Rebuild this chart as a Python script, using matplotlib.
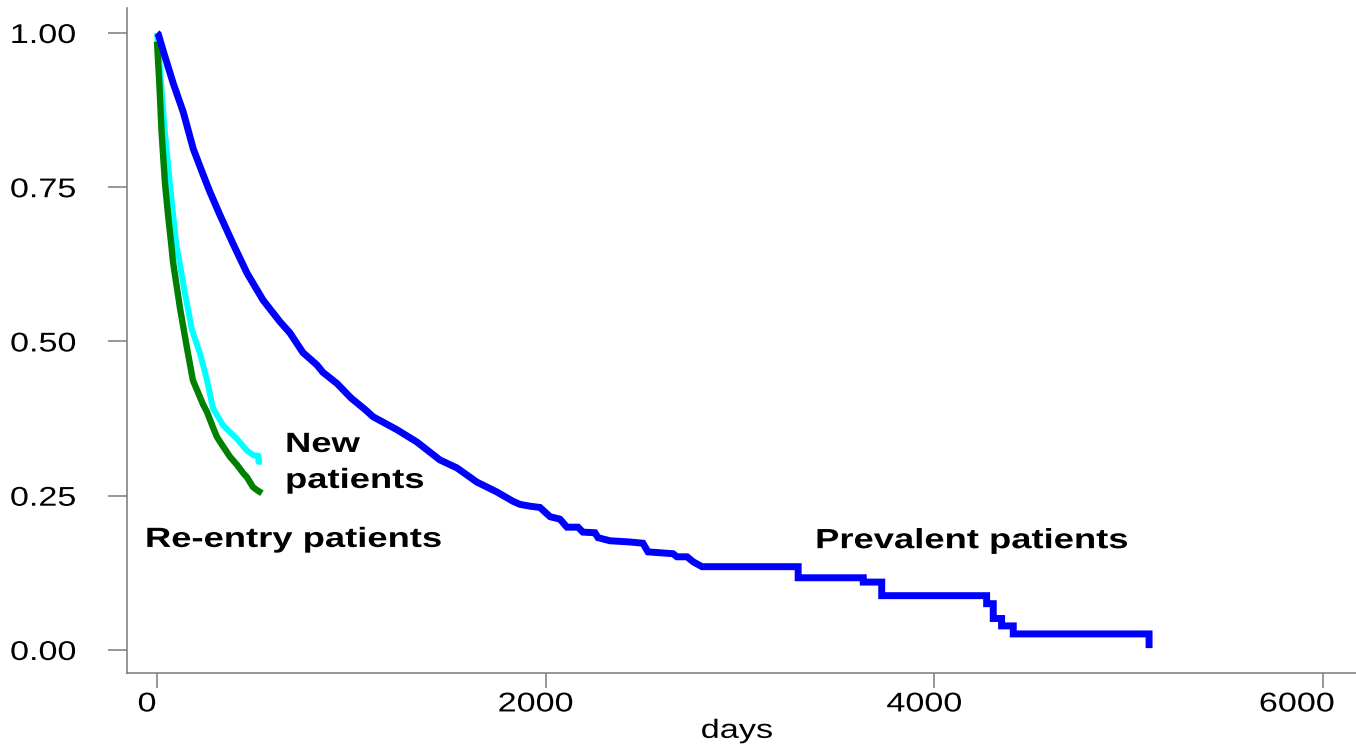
import matplotlib
matplotlib.use("Agg")
import matplotlib.pyplot as plt
from matplotlib.patheffects import AbstractPathEffect
from matplotlib.transforms import Affine2D, ScaledTranslation

# ---------------- data ----------------
prev_days = [0, 7, 33, 84, 135, 187, 238, 273, 324, 392, 463, 546, 633, 684, 751,
             823, 854, 926, 1000, 1070, 1112, 1235, 1338, 1456, 1544, 1647, 1750,
             1832, 1868, 1920, 1971, 2023, 2074, 2110, 2167, 2192, 2254, 2270, 2331,
             2434, 2501, 2527, 2656, 2676, 2728, 2759, 2805, 3300, 3300, 3635, 3635,
             3730, 3730, 4270, 4270, 4304, 4304, 4347, 4347, 4407, 4407, 5106, 5106]
prev_surv = [1.0, 0.998, 0.970, 0.918, 0.872, 0.812, 0.770, 0.742, 0.705, 0.658,
             0.611, 0.567, 0.532, 0.514, 0.482, 0.462, 0.450, 0.432, 0.408, 0.390,
             0.378, 0.357, 0.337, 0.308, 0.295, 0.272, 0.256, 0.241, 0.236, 0.233,
             0.231, 0.216, 0.212, 0.199, 0.199, 0.191, 0.190, 0.182, 0.177, 0.175,
             0.173, 0.159, 0.156, 0.151, 0.151, 0.143, 0.135, 0.135, 0.117, 0.117,
             0.110, 0.110, 0.088, 0.088, 0.075, 0.075, 0.051, 0.051, 0.039, 0.039,
             0.026, 0.026, 0.003]

new_days = [0, 21, 41, 58, 75, 101, 108, 144, 180, 221, 257, 288, 340, 412, 463,
            500, 522, 522, 540]
new_surv = [1.0, 0.919, 0.838, 0.783, 0.729, 0.653, 0.643, 0.578, 0.519, 0.481,
            0.438, 0.392, 0.364, 0.342, 0.323, 0.315, 0.315, 0.305, 0.305]

reentry_days = [0, 12, 24, 41, 58, 75, 82, 118, 154, 185, 237, 257, 288, 309, 340,
                376, 412, 443, 463, 494, 515, 540]
reentry_surv = [0.986, 0.919, 0.838, 0.757, 0.702, 0.653, 0.630, 0.555, 0.490,
                0.437, 0.398, 0.386, 0.361, 0.345, 0.330, 0.313, 0.300, 0.287,
                0.280, 0.264, 0.259, 0.254]

x_ticks = [0, 2000, 4000, 6000]
x_tick_labels = ["0", "2000", "4000", "6000"]
y_ticks = [0.0, 0.25, 0.50, 0.75, 1.00]
y_tick_labels = ["0.00", "0.25", "0.50", "0.75", "1.00"]

label_texts = ["Re-entry patients", "New\npatients", "Prevalent patients"]
label_pos = [(-62, 0.167), (659, 0.2626), (3387, 0.165)]
x_label = "days"


# ---------------- horizontally stretched glyphs (text stays real text) ----------------
class HStretch(AbstractPathEffect):
    def __init__(self, sx, anchor="left"):
        super().__init__()
        self.sx = sx
        self.anchor = anchor

    def draw_path(self, renderer, gc, tpath, affine, rgbFace=None):
        ext = tpath.get_extents()
        if self.anchor == "right":
            a = ext.x1
        elif self.anchor == "center":
            a = 0.5 * (ext.x0 + ext.x1)
        else:
            a = 0.0
        tr = Affine2D().translate(-a, 0).scale(self.sx, 1.0).translate(a, 0) + affine
        renderer.draw_path(gc, tpath, tr, rgbFace)


FONT = "Liberation Sans"

# ---------------- figure ----------------
fig = plt.figure(figsize=(13.56, 7.47), dpi=100)
ax = fig.add_axes([0.0937, 0.0991, 0.9063, 0.8902])

ax.plot(new_days, new_surv, color="#00FFFF", lw=4.3, solid_capstyle="butt",
        solid_joinstyle="round", zorder=2)
ax.plot(reentry_days, reentry_surv, color="#008000", lw=4.6, solid_capstyle="butt",
        solid_joinstyle="round", zorder=3)
ax.plot(prev_days, prev_surv, color="#0000FF", lw=5.0, solid_capstyle="butt",
        solid_joinstyle="miter", zorder=4)

ax.set_xlim(-154, 6171)
ax.set_ylim(-0.0373, 1.0405)

for s in ["top", "right"]:
    ax.spines[s].set_visible(False)
for s in ["left", "bottom"]:
    ax.spines[s].set_color("#7a7a7a")
    ax.spines[s].set_linewidth(1.1)

ax.set_xticks(x_ticks)
ax.set_xticklabels(x_tick_labels)
ax.set_yticks(y_ticks)
ax.set_yticklabels(y_tick_labels)
ax.tick_params(axis="both", colors="#7a7a7a", labelcolor="black", width=1.1,
               labelsize=19.5)
ax.tick_params(axis="y", length=13.7, pad=23)
ax.tick_params(axis="x", length=10.8, pad=2.5)
for lab in ax.get_yticklabels():
    lab.set_fontfamily(FONT)
    lab.set_path_effects([HStretch(1.26, "right")])
for lab in ax.get_xticklabels():
    lab.set_fontfamily(FONT)
    lab.set_path_effects([HStretch(1.26, "center")])

shifts_pt = [-7.2, -7.2, -7.2, -18.7]
for tick, sh in zip(ax.xaxis.get_major_ticks(), shifts_pt):
    tick.label1.set_transform(tick.label1.get_transform() +
                              ScaledTranslation(sh / 72, 0, fig.dpi_scale_trans))

xl = ax.set_xlabel(x_label, fontsize=19, family=FONT)
xl.set_path_effects([HStretch(1.3, "center")])
ax.xaxis.set_label_coords(0.4963, -0.069)

for txt, (x, y) in zip(label_texts, label_pos):
    ax.text(x, y, txt, fontsize=20, fontweight="bold", family=FONT, color="black",
            ha="left", va="baseline", linespacing=1.5,
            path_effects=[HStretch(1.31, "left")])

fig.savefig("out.png", dpi=100)
